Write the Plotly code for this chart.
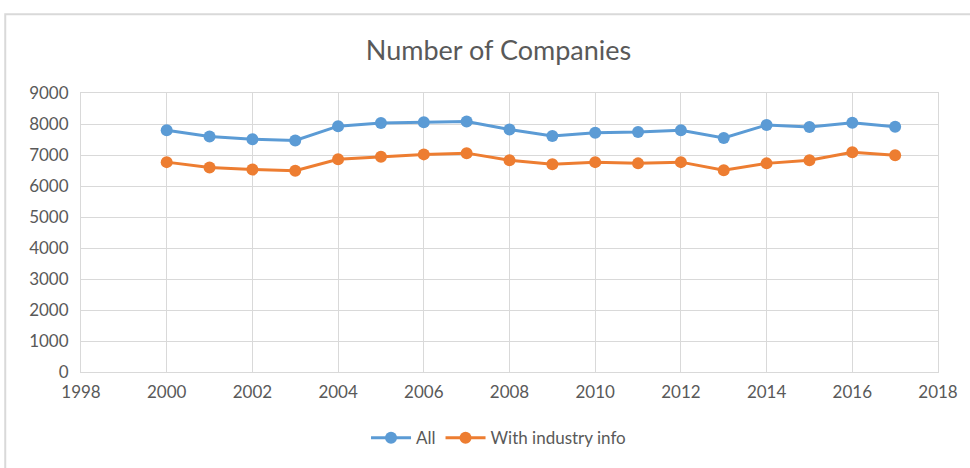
import plotly.graph_objects as go

years = list(range(2000, 2018))
all_companies = [7800, 7600, 7510, 7470, 7930, 8030, 8060, 8080, 7820, 7610,
                 7720, 7740, 7800, 7550, 7970, 7900, 8040, 7910]
with_industry = [6770, 6600, 6530, 6490, 6860, 6940, 7020, 7060, 6830, 6700,
                 6770, 6730, 6770, 6510, 6730, 6830, 7090, 6990]

font_family = "Lato, 'Open Sans', sans-serif"
text_color = "#595959"
grid_color = "#d9d9d9"

fig = go.Figure()
fig.add_trace(go.Scatter(
    x=years, y=all_companies, name="All", mode="lines+markers",
    line=dict(color="#5b9bd5", width=3),
    marker=dict(size=12, color="#5b9bd5"),
))
fig.add_trace(go.Scatter(
    x=years, y=with_industry, name="With industry info", mode="lines+markers",
    line=dict(color="#ed7d31", width=3),
    marker=dict(size=12, color="#ed7d31"),
))

# outer chart frame
fig.add_shape(type="rect", xref="paper", yref="paper",
              x0=-0.0884, x1=1.3, y0=-0.6, y1=1.2827,
              line=dict(color=grid_color, width=2), fillcolor="rgba(0,0,0,0)",
              layer="below")

fig.update_layout(
    width=970, height=468,
    margin=dict(l=81, r=29, t=93, b=92),
    paper_bgcolor="white", plot_bgcolor="white",
    font=dict(family=font_family, color=text_color, size=17),
    title=dict(text="Number of Companies", x=0.4872, xref="paper", xanchor="center",
               y=0.893, yref="container", yanchor="middle",
               font=dict(size=27, color=text_color, family=font_family)),
    xaxis=dict(range=[1998, 2018], dtick=2, tick0=1998, showgrid=True,
               gridcolor=grid_color, gridwidth=1, zeroline=False,
               showline=True, linecolor=grid_color, linewidth=1, mirror=True,
               ticks="", ticklabelstandoff=5),
    yaxis=dict(range=[0, 9000], dtick=1000, showgrid=True,
               gridcolor=grid_color, gridwidth=1, zeroline=False,
               showline=True, linecolor=grid_color, linewidth=1, mirror=True,
               ticks="", ticklabelstandoff=8),
    legend=dict(orientation="h", x=0.4872, xanchor="center", y=-0.237,
                yanchor="middle", font=dict(size=17, color=text_color),
                itemwidth=40),
    showlegend=True,
)

fig.write_html("out.html")
